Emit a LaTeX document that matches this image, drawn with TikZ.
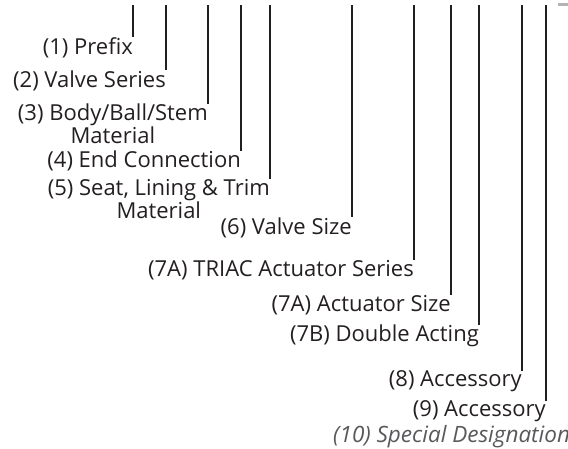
\documentclass[tikz,border=0pt]{standalone}
\usepackage{fontspec}
\setmainfont{Open Sans}
\definecolor{ink}{HTML}{231F20}
\definecolor{note}{HTML}{58595B}
\definecolor{tab}{HTML}{B3B3B3}

\begin{document}
\begin{tikzpicture}[x=1pt,y=-1pt,
    lbl/.style={anchor=base east,inner sep=0pt,text=ink,align=center,
      font=\fontsize{22}{22.5}\selectfont},
    lead/.style={draw=ink,line width=1.3pt}]
  \useasboundingbox (0,0) rectangle (568,448);
  % tops of the leader lines
  \coordinate (t1) at (133,5);
  \coordinate (t2) at (166,5);
  \coordinate (t3) at (208,5);
  \coordinate (t4) at (241,5);
  \coordinate (t5) at (270,5);
  \coordinate (t6) at (352,5);
  \coordinate (t7) at (414,5);
  \coordinate (t8) at (451,5);
  \coordinate (t9) at (479,5);
  \coordinate (t10) at (522,5);
  \coordinate (t11) at (546,5);
  % labels (base = last line)
  \node[lbl] (prefix) at (133,54.3) {(1) Prefix};
  \node[lbl] (series) at (166,87.3) {(2) Valve Series};
  \node[lbl] (body) at (208,143.3) {(3) Body/Ball/Stem\\Material};
  \node[lbl] (endcon) at (241,167.7) {(4) End Connection};
  \node[lbl] (seat) at (270,218.3) {(5) Seat, Lining \& Trim\\Material};
  \node[lbl] (size) at (352,234.3) {(6) Valve Size};
  \node[lbl] (triac) at (414,276.7) {(7A) TRIAC Actuator Series};
  \node[lbl] (actsize) at (451,311) {(7A) Actuator Size};
  \node[lbl] (double) at (479,341.7) {(7B) Double Acting};
  \node[lbl] (acc1) at (522,386.7) {(8) Accessory};
  \node[lbl] (acc2) at (546,416.7) {(9) Accessory};
  \node[lbl,anchor=base west,text=note,font=\fontsize{22.5}{22.5}\selectfont\itshape]
    (special) at (333,442.7) {(10) Special Designation};
  % leader lines
  \draw[lead] (t1) -- (prefix.north east);
  \draw[lead] (t2) -- (series.north east);
  \draw[lead] (t3) -- (body.north east);
  \draw[lead] (t4) -- (endcon.north east);
  \draw[lead] (t5) -- (seat.north east);
  \draw[lead] (t6) -- (size.north east);
  \draw[lead] (t7) -- (triac.north east);
  \draw[lead] (t8) -- (actsize.north east);
  \draw[lead] (t9) -- (double.north east);
  \draw[lead] (t10) -- (acc1.north east);
  \draw[lead] (t11) -- (acc2.north east);
  \fill[tab] (558,3) rectangle (568,6);
\end{tikzpicture}
\end{document}
